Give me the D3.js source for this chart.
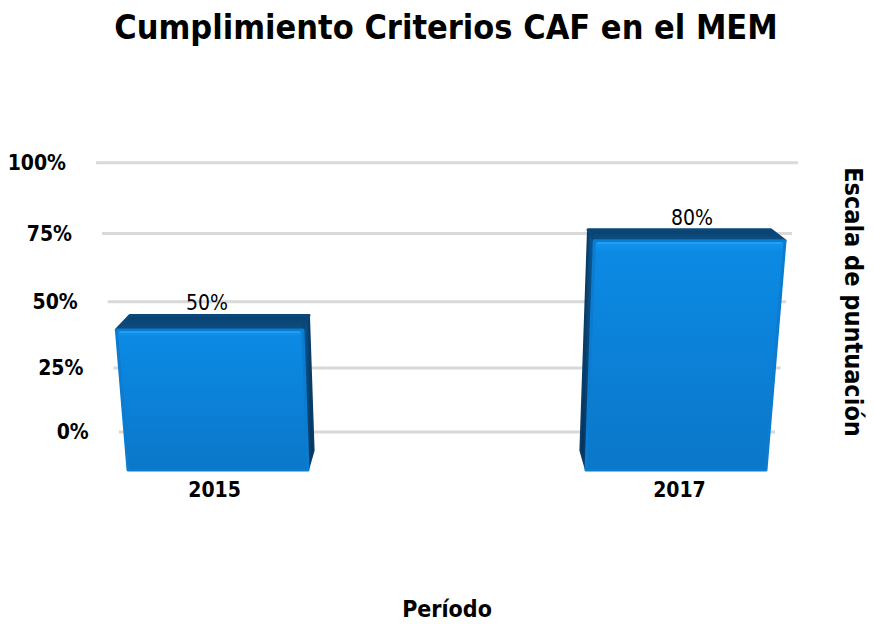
<!DOCTYPE html>
<html>
<head>
<meta charset="utf-8">
<script src="https://cdn.jsdelivr.net/npm/d3@7"></script>
<style>
  body { margin: 0; background: #fff; }
  text { font-family: "DejaVu Sans Condensed", "DejaVu Sans", sans-serif; }
</style>
</head>
<body>
<div id="chart"></div>
<script>
// chart values
const categories = ["2015", "2017"];
const values = [0.50, 0.80];
const valueLabels = ["50%", "80%"];
const ticks = [0, 0.25, 0.5, 0.75, 1];
const tickLabels = ["0%", "25%", "50%", "75%", "100%"];

const width = 873, height = 624;

// simple 3d view: chart tilted back around x axis, then perspective
const view = {x0: 447, y0: 470, f: 1369, dist: 1369, tilt: 19.6 * Math.PI / 180};
const wallDepth = 123, barDepth = 61, wallHalf = 356;

const yScale = d3.scaleLinear().domain([0, 1]).range([0, 287]);
const xScale = d3.scalePoint().domain(categories).range([-229, 229]);
const barHalf = 90;

function project(X, Y, Z) {
    const s = Math.sin(view.tilt), c = Math.cos(view.tilt);
    const Yp = Y * c + Z * s;
    const Zp = -Y * s + Z * c;
    const w = (view.dist + Zp) / view.f;
    return [view.x0 + X / w, view.y0 - Yp / w];
}

let svg = d3.select("#chart").append("svg")
    .attr("width", width)
    .attr("height", height);

let defs = svg.append("defs");

let frontGrad = defs.append("linearGradient").attr("id", "front")
    .attr("x1", 0).attr("y1", 0).attr("x2", 0).attr("y2", 1);
frontGrad.append("stop").attr("offset", "0%").attr("stop-color", "#1496ee");
frontGrad.append("stop").attr("offset", "5%").attr("stop-color", "#0b8ae4");
frontGrad.append("stop").attr("offset", "100%").attr("stop-color", "#0b77c9");

let sideL = defs.append("linearGradient").attr("id", "sideL")
    .attr("x1", 0).attr("y1", 0).attr("x2", 1).attr("y2", 0);
sideL.append("stop").attr("offset", "0%").attr("stop-color", "#0b5e9e");
sideL.append("stop").attr("offset", "100%").attr("stop-color", "#072c50");

let sideR = defs.append("linearGradient").attr("id", "sideR")
    .attr("x1", 0).attr("y1", 0).attr("x2", 1).attr("y2", 0);
sideR.append("stop").attr("offset", "0%").attr("stop-color", "#072c50");
sideR.append("stop").attr("offset", "100%").attr("stop-color", "#0b5e9e");

let topGrad = defs.append("linearGradient").attr("id", "top")
    .attr("x1", 0).attr("y1", 0).attr("x2", 0).attr("y2", 1);
topGrad.append("stop").attr("offset", "0%").attr("stop-color", "#0a406d");
topGrad.append("stop").attr("offset", "100%").attr("stop-color", "#0c4f84");

// title
svg.append("text")
    .attr("x", 446).attr("y", 39)
    .attr("text-anchor", "middle")
    .attr("font-size", 34).attr("font-weight", "bold")
    .text("Cumplimiento Criterios CAF en el MEM");

// gridlines on the back wall
let grid = svg.append("g");
ticks.forEach((t, i) => {
    const a = project(-wallHalf, yScale(t), wallDepth);
    const b = project(wallHalf, yScale(t), wallDepth);
    grid.append("line")
        .attr("x1", a[0]).attr("y1", a[1])
        .attr("x2", b[0]).attr("y2", b[1])
        .attr("stroke", "#d9d9d9").attr("stroke-width", 3);
    grid.append("text")
        .attr("x", a[0] - 30).attr("y", a[1] + 7)
        .attr("text-anchor", "end")
        .attr("font-size", 21).attr("font-weight", "bold")
        .text(tickLabels[i]);
});

const poly = pts => "M" + pts.map(p => p.join(",")).join("L") + "Z";

// bars
let bars = svg.append("g");
categories.forEach((cat, i) => {
    const xc = xScale(cat);
    const x1 = xc - barHalf, x2 = xc + barHalf;
    const h = yScale(values[i]);
    const g = bars.append("g");

    // inner side face, the one facing the centre
    const sx = xc < 0 ? x2 : x1;
    g.append("path")
        .attr("d", poly([project(sx, 0, 0), project(sx, h, 0), project(sx, h, barDepth), project(sx, 0, barDepth)]))
        .attr("fill", xc < 0 ? "url(#sideL)" : "url(#sideR)")
        .attr("stroke", "#0a3c68").attr("stroke-width", 2)
        .attr("stroke-linejoin", "round");

    // top face
    g.append("path")
        .attr("d", poly([project(x1, h, 0), project(x2, h, 0), project(x2, h, barDepth), project(x1, h, barDepth)]))
        .attr("fill", "url(#top)")
        .attr("stroke", "#0b4778").attr("stroke-width", 3)
        .attr("stroke-linejoin", "round");

    // front face
    g.append("path")
        .attr("d", poly([project(x1, 0, 0), project(x2, 0, 0), project(x2, h, 0), project(x1, h, 0)]))
        .attr("fill", "url(#front)")
        .attr("stroke", "#0b7ccf").attr("stroke-width", 3)
        .attr("stroke-linejoin", "round");

    // light edge along the front top
    const e1 = project(x1 + 3, h - 2, 0), e2 = project(x2 - 3, h - 2, 0);
    g.append("line")
        .attr("x1", e1[0]).attr("y1", e1[1]).attr("x2", e2[0]).attr("y2", e2[1])
        .attr("stroke", "#22a6f7").attr("stroke-width", 2).attr("opacity", 0.8);

    // value label
    const lp = project(xc * 1.065, h, barDepth + 14);
    svg.append("text")
        .attr("x", lp[0]).attr("y", lp[1] - 2)
        .attr("text-anchor", "middle")
        .attr("font-size", 21)
        .text(valueLabels[i]);

    // category label
    const cp = project(xc * 1.015, 0, 0);
    svg.append("text")
        .attr("x", cp[0]).attr("y", cp[1] + 27)
        .attr("text-anchor", "middle")
        .attr("font-size", 21).attr("font-weight", "bold")
        .text(cat);
});

// axis titles
svg.append("text")
    .attr("x", 447).attr("y", 617)
    .attr("text-anchor", "middle")
    .attr("font-size", 23).attr("font-weight", "bold")
    .text("Período");

svg.append("text")
    .attr("transform", "translate(845,302) rotate(90)")
    .attr("text-anchor", "middle")
    .attr("font-size", 25).attr("font-weight", "bold")
    .text("Escala de puntuación");
</script>
</body>
</html>
